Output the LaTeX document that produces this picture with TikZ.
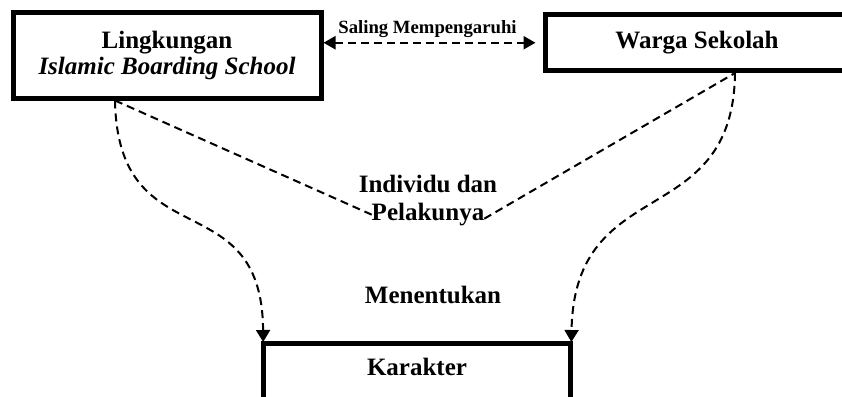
\documentclass[tikz,border=0pt]{standalone}
\usepackage{fontspec}
\setmainfont{Liberation Serif}
\usepackage{tikz}
\usetikzlibrary{positioning}
\usetikzlibrary{arrows.meta}

\tikzset{
	box/.style={draw, line width=5pt, inner sep=0pt, font=\fontsize{25}{26}\selectfont\bfseries},
	txt/.style={inner sep=0pt, outer sep=0pt, font=\fontsize{25}{28}\selectfont\bfseries},
	link/.style={dash pattern=on 8pt off 5pt, line width=2pt},
	tip/.style={-{Triangle[width=14pt,length=12pt,sep=-1pt]}}
}

\begin{document}
\begin{tikzpicture}[x=1pt,y=-1pt]
	\useasboundingbox (0,0) rectangle (842,396);
	\clip (0,0) rectangle (842,396);

	\node[box,minimum width=308pt,minimum height=85.5pt,align=center] (env) at (167,55.25) {Lingkungan\\\textit{Islamic Boarding School}};
	\node[box,minimum width=304pt,minimum height=55.5pt] (warga) at (697,42.75) {Warga Sekolah};
	\node[box,minimum width=307.7pt,minimum height=60pt,text height=17pt,text depth=14pt] (karakter) at (417,373.5) {Karakter};

	\node[txt,font=\fontsize{18.7}{20}\selectfont\bfseries] (saling) at (427.5,29) {Saling Mempengaruhi};
	\node[txt] (indiv) at (428,183.5) {Individu dan};
	\node[txt] (pelaku) [below=11pt of indiv] {Pelakunya};
	\node[txt] (tentu) at (433,295) {Menentukan};

	\coordinate (envfoot) at ([xshift=-52pt]env.south);
	\coordinate (wargafoot) at ([xshift=38pt]warga.south);

	\draw[link,line width=2.4pt,{Triangle[width=13pt,length=12pt]}-{Triangle[width=13pt,length=12pt]},shorten >=7pt] (env.east |- warga.west) -- (warga.west);

	\draw[link] (envfoot) -- (pelaku.west);
	\draw[link] ([yshift=-4pt]pelaku.east) -- (wargafoot);

	\draw[link,tip] (envfoot) .. controls +(3,160) and +(-1,-161) .. ([xshift=2.5pt]karakter.north west);
	\draw[link,tip] (wargafoot) .. controls +(-2,160) and +(3,-170) .. ([xshift=-2pt]karakter.north east);
\end{tikzpicture}
\end{document}
